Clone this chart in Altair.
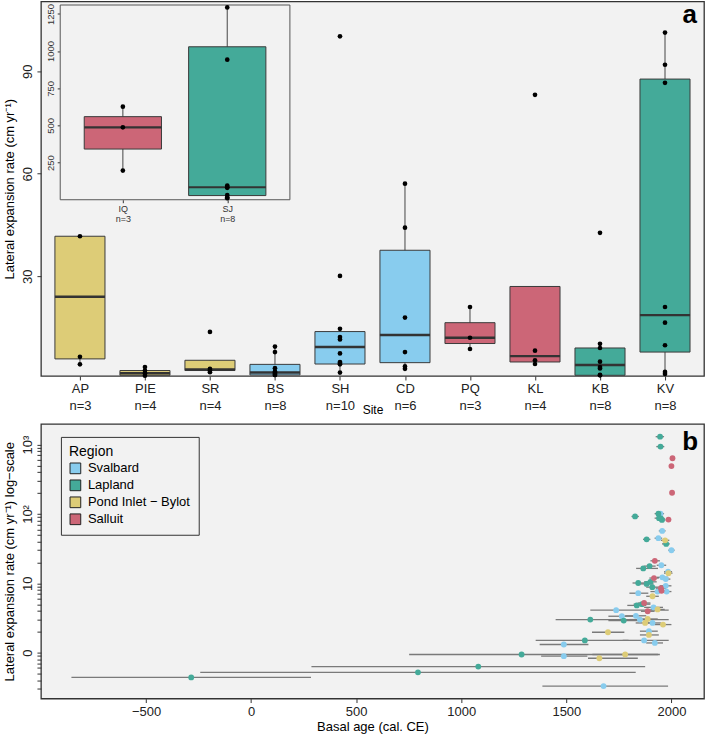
import altair as alt
import pandas as pd

FONT = "Liberation Sans"

# ---------------- Panel a data ----------------
sites = ["AP", "PIE", "SR", "BS", "SH", "CD", "PQ", "KL", "KB", "KV"]
site_regions = ["Pond Inlet − Bylot", "Pond Inlet − Bylot", "Pond Inlet − Bylot",
                "Svalbard", "Svalbard", "Svalbard", "Salluit", "Salluit",
                "Lapland", "Lapland"]
site_points = [
    [41.7, 6.4, 4.2],
    [3.4, 2.4, 1.6, 0.9],
    [13.7, 2.9, 2.4, 1.9],
    [9.4, 7.8, 3.1, 2.1, 1.8, 1.5, 1.1, 1.1],
    [100.2, 30.1, 14.6, 12.2, 11.5, 7.4, 4.9, 4.6, 4.2, 1.8],
    [57.1, 44.2, 17.9, 7.8, 3.6, 2.9],
    [21.0, 12.0, 8.7],
    [83.1, 8.2, 5.4, 4.3],
    [42.7, 10.2, 9.0, 5.0, 3.4, 3.0, 1.1, 1.0],
    [101.3, 91.9, 86.6, 21.0, 16.4, 9.8, 2.0, 1.4],
]
box_q1 = [5.8, 1.0, 2.4, 1.1, 4.3, 4.7, 10.3, 4.9, 1.0, 7.8]
box_med = [24.0, 1.6, 2.7, 1.8, 9.3, 12.8, 12.0, 6.6, 4.0, 18.6]
box_q3 = [41.7, 2.4, 5.4, 4.2, 13.8, 37.6, 16.4, 27.0, 9.0, 87.7]
whisker_lo = [4.2, 0.9, 1.9, 1.1, 1.8, 2.9, 8.7, 4.3, 1.0, 1.4]
whisker_hi = [41.7, 3.4, 5.4, 9.4, 14.6, 57.1, 21.0, 27.0, 10.2, 101.3]

# inset
inset_sites = ["IQ", "SJ"]
inset_regions = ["Salluit", "Lapland"]
inset_points = [[626, 487, 196], [1294, 942, 95, 84, 80, 32, 17, 10]]
inset_q1 = [341, 28]
inset_med = [487, 84]
inset_q3 = [559, 1029]
inset_lo = [196, 10]
inset_hi = [626, 1294]

# ---------------- Panel b data ----------------
regions = ["Svalbard", "Lapland", "Pond Inlet − Bylot", "Salluit"]
region_colors = ["#88CCEE", "#44AA99", "#DDCC77", "#CC6677"]

sv_age = [1948, 1956, 1938, 2000, 1952, 1984, 1957, 1973, 1973, 1934, 1842, 1977,
          1915, 1737, 1764, 1831, 1850, 1910, 1893, 1870, 1921, 1488, 1488, 1677]
sv_rate = [101, 57, 44.7, 30, 18.2, 14.7, 12.2, 11.5, 9.2, 7.6, 7.2, 7.6,
           4.5, 4.1, 3.35, 3.4, 3.0, 2.68, 2.04, 1.5, 1.38, 1.31, 0.89, 0.33]
sv_lo = [1930, 1940, 1920, 1985, 1930, 1965, 1930, 1950, 1945, 1900, 1800, 1955,
         1870, 1614, 1700, 1780, 1800, 1870, 1850, 1768, 1880, 1373, 1380, 1386]
sv_hi = [1965, 1972, 1956, 2015, 1975, 2003, 1985, 1995, 2000, 1968, 1890, 2000,
         1960, 1987, 1830, 1880, 1900, 1950, 1935, 1987, 1960, 1605, 1600, 1984]

la_age = [1946, 1948, 1827, 1938, 1941, 1955, 1950, 1882, 1975, 1896, 1866, 1842,
          1882, 1909, 1835, 1614, 1773, 1588, 1287, 1081, 794, -285, 1860, 1900]
la_rate = [1300, 936, 92, 101, 87, 82, 86, 43, 37, 17.7, 16.4, 10.1,
           9.8, 8.8, 4.8, 3.0, 2.9, 1.5, 0.94, 0.63, 0.52, 0.44, 5.0, 10.5]
la_lo = [1925, 1928, 1810, 1920, 1920, 1935, 1930, 1865, 1955, 1870, 1832, 1815,
         1850, 1880, 1790, 1449, 1700, 1354, 752, 287, -242, -855, 1820, 1870]
la_hi = [1965, 1966, 1845, 1955, 1960, 1972, 1968, 1900, 1992, 1925, 1936, 1870,
         1915, 1940, 1880, 1987, 1850, 1796, 1945, 1875, 1830, 285, 1900, 1930]

pb_age = [1970, 1986, 1910, 1934, 1887, 1875, 1960, 1698, 1893, 1780, 1657]
pb_rate = [41.7, 14.0, 6.5, 4.2, 3.06, 2.68, 2.54, 1.97, 1.8, 0.94, 0.83]
pb_lo = [1950, 1965, 1880, 1900, 1840, 1830, 1920, 1622, 1850, 1624, 1603]
pb_hi = [1990, 2005, 1940, 1968, 1935, 1920, 2000, 1776, 1940, 1936, 1840]

sa_age = [2005, 2000, 2003, 1986, 1921, 1917, 1950, 1953, 1870, 1887]
sa_rate = [636, 490, 202, 83, 21.1, 11.9, 8.5, 7.8, 5.2, 3.95]
sa_lo = [1995, 1990, 1993, 1975, 1900, 1895, 1925, 1930, 1840, 1855]
sa_hi = [2015, 2010, 2012, 1997, 1945, 1940, 1975, 1978, 1900, 1920]

panel_letters = ["a", "b"]

# ---------------- tables ----------------
def counts_labels(names, pts):
    return [f"{s}|n={len(p)}" for s, p in zip(names, pts)]

main_box = pd.DataFrame({
    "idx": list(range(1, len(sites) + 1)), "site": sites, "region": site_regions,
    "q1": box_q1, "med": box_med, "q3": box_q3, "lo": whisker_lo, "hi": whisker_hi,
})
main_pts = pd.DataFrame([{"idx": i + 1, "value": v}
                         for i, p in enumerate(site_points) for v in p])
inset_box = pd.DataFrame({
    "idx": list(range(1, len(inset_sites) + 1)), "site": inset_sites, "region": inset_regions,
    "q1": inset_q1, "med": inset_med, "q3": inset_q3, "lo": inset_lo, "hi": inset_hi,
})
inset_pts = pd.DataFrame([{"idx": i + 1, "value": v}
                          for i, p in enumerate(inset_points) for v in p])

rows = []
for reg, ages, rates, los, his in [
    ("Svalbard", sv_age, sv_rate, sv_lo, sv_hi),
    ("Lapland", la_age, la_rate, la_lo, la_hi),
    ("Pond Inlet − Bylot", pb_age, pb_rate, pb_lo, pb_hi),
    ("Salluit", sa_age, sa_rate, sa_lo, sa_hi),
]:
    for a, r, l, h in zip(ages, rates, los, his):
        rows.append({"region": reg, "age": a, "rate": r, "lo": l, "hi": h})
b_df = pd.DataFrame(rows)

main_labels = counts_labels(sites, site_points)
inset_labels = counts_labels(inset_sites, inset_points)


def label_expr(labels):
    arr = "[" + ",".join("'" + s + "'" for s in labels) + "]"
    return f"split({arr}[datum.value - 1], '|')"


color_scale = alt.Scale(domain=regions, range=region_colors)

# ---------------- Panel a ----------------
W, HA, HB = 664, 375, 275
BOX_HALF = 0.385
INSET_HALF = 0.37
MAIN_X_DOMAIN = [0.4, 10.6]
MAIN_Y_DOMAIN = [0.8, 110.4]

main_x_scale = alt.Scale(domain=MAIN_X_DOMAIN, nice=False, zero=False)
main_x_axis = alt.Axis(values=list(range(1, 11)), labelExpr=label_expr(main_labels),
                       title="Site", titleFontSize=12, titleY=29, titleBaseline="top",
                       labelFontSize=13, labelLineHeight=17, labelPadding=3, tickSize=4,
                       labelColor="#222")
main_y_scale = alt.Scale(domain=MAIN_Y_DOMAIN, nice=False, zero=False)
main_y_axis = alt.Axis(values=[30, 60, 90], title="Lateral expansion rate (cm yr⁻¹)",
                       labelAngle=270, labelFontSize=13, tickSize=4, titleFontSize=13,
                       labelPadding=2, titlePadding=5, labelColor="#222")


def mx(field):
    return alt.X(field, type="quantitative", scale=main_x_scale, axis=main_x_axis)


def my(field):
    return alt.Y(field, type="quantitative", scale=main_y_scale, axis=main_y_axis)


main_base = alt.Chart(main_box).transform_calculate(
    xl=f"datum.idx - {BOX_HALF}", xr=f"datum.idx + {BOX_HALF}")

whisk = main_base.mark_rule(color="#555555", strokeWidth=1.1).encode(
    x=mx("idx"), y=my("lo"), y2="hi")
boxes = main_base.mark_rect(stroke="#3a3a3a", strokeWidth=1).encode(
    x=mx("xl"), x2="xr", y=my("q1"), y2="q3",
    fill=alt.Fill("region:N", scale=color_scale, legend=None))
medians = main_base.mark_rule(color="#333333", strokeWidth=2.4).encode(
    x=mx("xl"), x2="xr", y=my("med"))
points = alt.Chart(main_pts).mark_circle(color="black", size=22, opacity=1).encode(
    x=mx("idx"), y=my("value"))
letter_a = alt.Chart(pd.DataFrame({"tx": [MAIN_X_DOMAIN[1]], "ty": [MAIN_Y_DOMAIN[1]],
                                   "label": [panel_letters[0]]})).mark_text(
    align="right", baseline="alphabetic", dx=-7, dy=22, fontSize=26, fontWeight="bold",
    font=FONT, color="black").encode(x=mx("tx"), y=my("ty"), text="label:N")

main_layer = alt.layer(whisk, boxes, medians, points, letter_a)

# inset
inset_x_domain = [0.4, 2.6]
inset_y_domain = [0, 1310]
inset_x_scale = alt.Scale(domain=inset_x_domain, range=[19.3, 249.3], nice=False, zero=False)
inset_y_scale = alt.Scale(domain=inset_y_domain, range=[198.5, 3.5], nice=False, zero=False)
inset_x_axis = alt.Axis(values=[1, 2], labelExpr=label_expr(inset_labels), orient="bottom",
                        offset=-176.5, title=None, labelFontSize=9, labelLineHeight=10,
                        labelPadding=2, tickSize=3, domain=False, labelColor="#333")
inset_y_axis = alt.Axis(values=[250, 500, 750, 1000, 1250], orient="left", offset=-19.3,
                        title=None, labelAngle=270, labelFontSize=9.5, tickSize=3,
                        labelPadding=2, domain=False, labelColor="#333", format="d")


def ix(field):
    return alt.X(field, type="quantitative", scale=inset_x_scale, axis=inset_x_axis)


def iy(field):
    return alt.Y(field, type="quantitative", scale=inset_y_scale, axis=inset_y_axis)


frame_df = pd.DataFrame({"x0": [inset_x_domain[0]], "x1": [inset_x_domain[1]],
                         "y0": [inset_y_domain[0]], "y1": [inset_y_domain[1]]})
inset_frame = alt.Chart(frame_df).mark_rect(fill="#F2F2F2", stroke="#555555",
                                            strokeWidth=1).encode(
    x=ix("x0"), x2="x1", y=iy("y0"), y2="y1")
inset_base = alt.Chart(inset_box).transform_calculate(
    xl=f"datum.idx - {INSET_HALF}", xr=f"datum.idx + {INSET_HALF}")
i_whisk = inset_base.mark_rule(color="#555555", strokeWidth=1.1).encode(
    x=ix("idx"), y=iy("lo"), y2="hi")
i_boxes = inset_base.mark_rect(stroke="#3a3a3a", strokeWidth=1).encode(
    x=ix("xl"), x2="xr", y=iy("q1"), y2="q3",
    fill=alt.Fill("region:N", scale=color_scale, legend=None))
i_medians = inset_base.mark_rule(color="#333333", strokeWidth=2.2).encode(
    x=ix("xl"), x2="xr", y=iy("med"))
i_points = alt.Chart(inset_pts).mark_circle(color="black", size=22, opacity=1).encode(
    x=ix("idx"), y=iy("value"))

inset_layer = alt.layer(inset_frame, i_whisk, i_boxes, i_medians, i_points)

panel_a = alt.layer(main_layer, inset_layer).resolve_scale(
    x="independent", y="independent", fill="shared"
).properties(width=W, height=HA)

# ---------------- Panel b ----------------
B_X_DOMAIN = [-1000, 2155]
B_Y_DOMAIN = [0.218, 1987]
y_ticks = [round(m * 10 ** e, 6) for e in range(-1, 4) for m in range(1, 10)
           if B_Y_DOMAIN[0] <= m * 10 ** e <= B_Y_DOMAIN[1]]
b_x_scale = alt.Scale(domain=B_X_DOMAIN, nice=False, zero=False)
b_x_axis = alt.Axis(values=[-500, 0, 500, 1000, 1500, 2000], title="Basal age (cal. CE)",
                    labelFontSize=13, titleFontSize=13, tickSize=4, labelPadding=3,
                    titlePadding=2, labelColor="#222", format="d")
b_y_scale = alt.Scale(type="log", domain=B_Y_DOMAIN, nice=False)
b_y_axis = alt.Axis(values=y_ticks,
                    labelExpr="datum.value == 1000 ? '10³' : datum.value == 100 ? '10²' : "
                              "datum.value == 10 ? '10' : datum.value == 1 ? '0' : ''",
                    title="Lateral expansion rate (cm yr⁻¹) log−scale", labelAngle=270,
                    labelFontSize=13, titleFontSize=13, tickSize=4, labelPadding=2,
                    titlePadding=5, labelOverlap=False, labelColor="#222")

errbars = alt.Chart(b_df).mark_rule(color="#7a7a7a", strokeWidth=1.3).encode(
    x=alt.X("lo:Q", scale=b_x_scale, axis=b_x_axis),
    x2="hi:Q",
    y=alt.Y("rate:Q", scale=b_y_scale, axis=b_y_axis),
)
bpoints = alt.Chart(b_df).mark_circle(size=34, opacity=1).encode(
    x=alt.X("age:Q", scale=b_x_scale, axis=b_x_axis),
    y=alt.Y("rate:Q", scale=b_y_scale, axis=b_y_axis),
    color=alt.Color("region:N", scale=color_scale, legend=alt.Legend(
        title="Region", orient="none", legendX=20, legendY=13, fillColor="#F2F2F2",
        strokeColor="#333333", padding=8, symbolType="square", symbolSize=115,
        symbolStrokeColor="#222222", symbolStrokeWidth=1, symbolOpacity=1,
        labelFontSize=13, titleFontSize=14, titleFontWeight="normal", rowPadding=2,
        titlePadding=3, labelOffset=6, labelFont=FONT, titleFont=FONT,
        labelColor="black", titleColor="black")),
)
letter_b = alt.Chart(pd.DataFrame({"tx": [B_X_DOMAIN[1]], "ty": [B_Y_DOMAIN[1]],
                                   "label": [panel_letters[1]]})).mark_text(
    align="right", baseline="alphabetic", dx=-6, dy=26, fontSize=26, fontWeight="bold",
    font=FONT, color="black").encode(
    x=alt.X("tx:Q", scale=b_x_scale, axis=b_x_axis),
    y=alt.Y("ty:Q", scale=b_y_scale, axis=b_y_axis), text="label:N")

panel_b = alt.layer(errbars, bpoints, letter_b).properties(width=W, height=HB)

chart = alt.vconcat(panel_a, panel_b, spacing=48, bounds="flush").resolve_scale(
    color="independent", fill="independent"
).properties(
    padding={"left": 3, "right": 4, "top": 0, "bottom": 0},
    background="white",
).configure_view(
    fill="#F2F2F2", stroke="#333333", strokeWidth=1.3
).configure_axis(
    labelFont=FONT, titleFont=FONT, titleColor="black", tickColor="#333333",
    domain=False, grid=False, titleFontWeight="normal"
)

chart.save("out.html", embed_options={"renderer": "svg", "actions": False})
